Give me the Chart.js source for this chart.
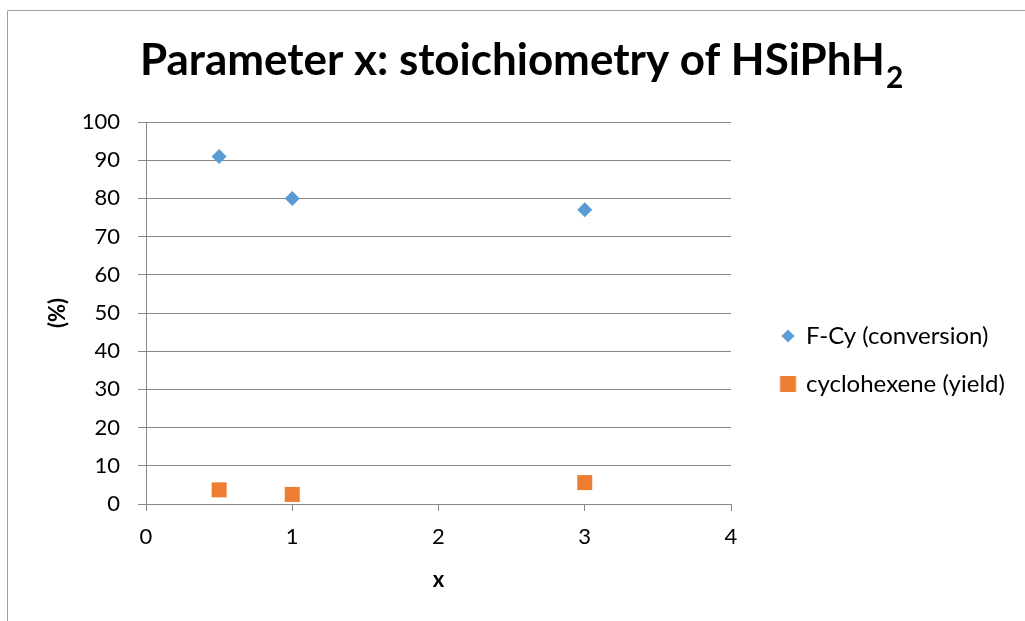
<!DOCTYPE html>
<html>
<head>
<meta charset="utf-8">
<script src="https://cdn.jsdelivr.net/npm/chart.js@4.4.0/dist/chart.umd.min.js"></script>
<style>
  html, body { margin: 0; padding: 0; background: #fff; }
  #wrap { width: 1025px; height: 621px; }
</style>
</head>
<body>
<div id="wrap"><canvas id="myChart" width="1025" height="621"></canvas></div>
<script>
// stoichiometry of the silane (x) and measured percentages
const xValues = [0.5, 1, 3];
const conversion = [91, 80, 77];
const yieldValues = [3.7, 2.5, 5.6];
const seriesNames = ['F-Cy (conversion)', 'cyclohexene (yield)'];
const xTicks = [0, 1, 2, 3, 4];
const yTicks = [0, 10, 20, 30, 40, 50, 60, 70, 80, 90, 100];
const titleMain = 'Parameter x: stoichiometry of HSiPhH';
const titleSub = '2';

const BLUE = '#5B9BD5';
const ORANGE = '#ED7D31';
const GRID = '#888888';
const FONT = 'Lato';
const LEGEND_SIZE = 24;
const LEGEND_PAD = 24;
const ICON_W = 39;

Chart.defaults.font.family = FONT;
Chart.defaults.color = '#000';

// small legend icons, marker drawn right of the icon's centre
function makeIcon(kind, color) {
    const c = document.createElement('canvas');
    c.width = 48;
    c.height = 24;
    const g = c.getContext('2d');
    g.fillStyle = color;
    if (kind === 'diamond') {
        g.beginPath();
        g.moveTo(37.5, 5.5);
        g.lineTo(44, 12);
        g.lineTo(37.5, 18.5);
        g.lineTo(31, 12);
        g.closePath();
        g.fill();
    } else {
        g.fillRect(29.5, 4, 16, 16);
    }
    return c;
}
const legendIcons = [makeIcon('diamond', BLUE), makeIcon('square', ORANGE)];

// legend has to take 294px so the plot stops at x=731
// (Chart.js legend width = padding + icon + font/2 + text + 10)
const mctx = document.createElement('canvas').getContext('2d');
mctx.font = LEGEND_SIZE + 'px ' + FONT;
const textW = Math.max(...seriesNames.map(n => mctx.measureText(n).width));
const legendW = LEGEND_PAD + ICON_W + LEGEND_SIZE / 2 + textW + 10;
const padRight = Math.max(0, 294 - legendW);

// white background and the thin outer frame
const framePlugin = {
    id: 'frame',
    beforeDraw(chart) {
        const ctx = chart.ctx;
        ctx.save();
        ctx.fillStyle = '#fff';
        ctx.fillRect(0, 0, chart.width, chart.height);
        ctx.strokeStyle = '#a0a0a0';
        ctx.lineWidth = 1;
        ctx.beginPath();
        ctx.moveTo(7.5, chart.height);
        ctx.lineTo(7.5, 10.5);
        ctx.lineTo(chart.width, 10.5);
        ctx.stroke();
        ctx.restore();
    }
};

// chart title with subscript
const titlePlugin = {
    id: 'subTitle',
    afterDraw(chart) {
        const ctx = chart.ctx;
        ctx.save();
        ctx.fillStyle = '#000';
        ctx.textBaseline = 'alphabetic';
        ctx.textAlign = 'left';
        ctx.font = 'bold 100px ' + FONT;
        const size = 100 * 745 / ctx.measureText(titleMain).width;
        ctx.font = 'bold ' + size + 'px ' + FONT;
        ctx.fillText(titleMain, 140, 75);
        const w = ctx.measureText(titleMain).width;
        ctx.font = 'bold ' + (size * 0.68) + 'px ' + FONT;
        ctx.fillText(titleSub, 140 + w + 1, 88);
        ctx.restore();
    }
};

const ctx = document.getElementById('myChart').getContext('2d');
const myChart = new Chart(ctx, {
    type: 'scatter',
    data: {
        datasets: [{
            label: seriesNames[0],
            data: xValues.map((x, i) => ({ x: x, y: conversion[i] })),
            pointStyle: 'rectRot',
            pointRadius: 7.5,
            pointHoverRadius: 7.5,
            backgroundColor: BLUE,
            borderColor: BLUE,
            borderWidth: 0
        }, {
            label: seriesNames[1],
            data: xValues.map((x, i) => ({ x: x, y: yieldValues[i] })),
            pointStyle: 'rect',
            pointRadius: 10.6,
            pointHoverRadius: 10.6,
            backgroundColor: ORANGE,
            borderColor: ORANGE,
            borderWidth: 0
        }]
    },
    options: {
        responsive: false,
        animation: false,
        layout: { padding: { top: 122, left: 0, right: padRight, bottom: 23 } },
        scales: {
            x: {
                type: 'linear',
                min: 0,
                max: 4,
                afterBuildTicks: s => { s.ticks = xTicks.map(v => ({ value: v })); },
                afterFit: s => { s.height = 94; },
                grid: { drawOnChartArea: false, drawTicks: true, tickLength: 7, color: GRID },
                border: { color: GRID, width: 1 },
                ticks: { font: { size: 22 }, color: '#000', padding: 13 },
                title: {
                    display: true,
                    text: 'x',
                    font: { size: 22, weight: 'bold' },
                    color: '#000',
                    padding: { top: 0, bottom: 5 }
                }
            },
            y: {
                min: 0,
                max: 100,
                afterBuildTicks: s => { s.ticks = yTicks.map(v => ({ value: v })); },
                afterFit: s => { s.width = 146; },
                grid: { color: GRID, tickLength: 8 },
                border: { color: GRID, width: 1 },
                ticks: { font: { size: 22 }, color: '#000', padding: 18 },
                title: {
                    display: true,
                    text: '(%)',
                    font: { size: 22, weight: 'bold' },
                    color: '#000',
                    padding: { top: 45, bottom: 0 }
                }
            }
        },
        plugins: {
            title: { display: false },
            tooltip: { enabled: false },
            legend: {
                position: 'right',
                align: 'center',
                maxWidth: 294,
                labels: {
                    usePointStyle: true,
                    pointStyleWidth: ICON_W,
                    padding: LEGEND_PAD,
                    font: { size: LEGEND_SIZE },
                    color: '#000',
                    generateLabels: chart => chart.data.datasets.map((ds, i) => ({
                        text: ds.label,
                        pointStyle: legendIcons[i],
                        fillStyle: ds.backgroundColor,
                        strokeStyle: ds.borderColor,
                        lineWidth: 0,
                        hidden: false,
                        datasetIndex: i
                    }))
                }
            }
        }
    },
    plugins: [framePlugin, titlePlugin]
});
</script>
</body>
</html>
